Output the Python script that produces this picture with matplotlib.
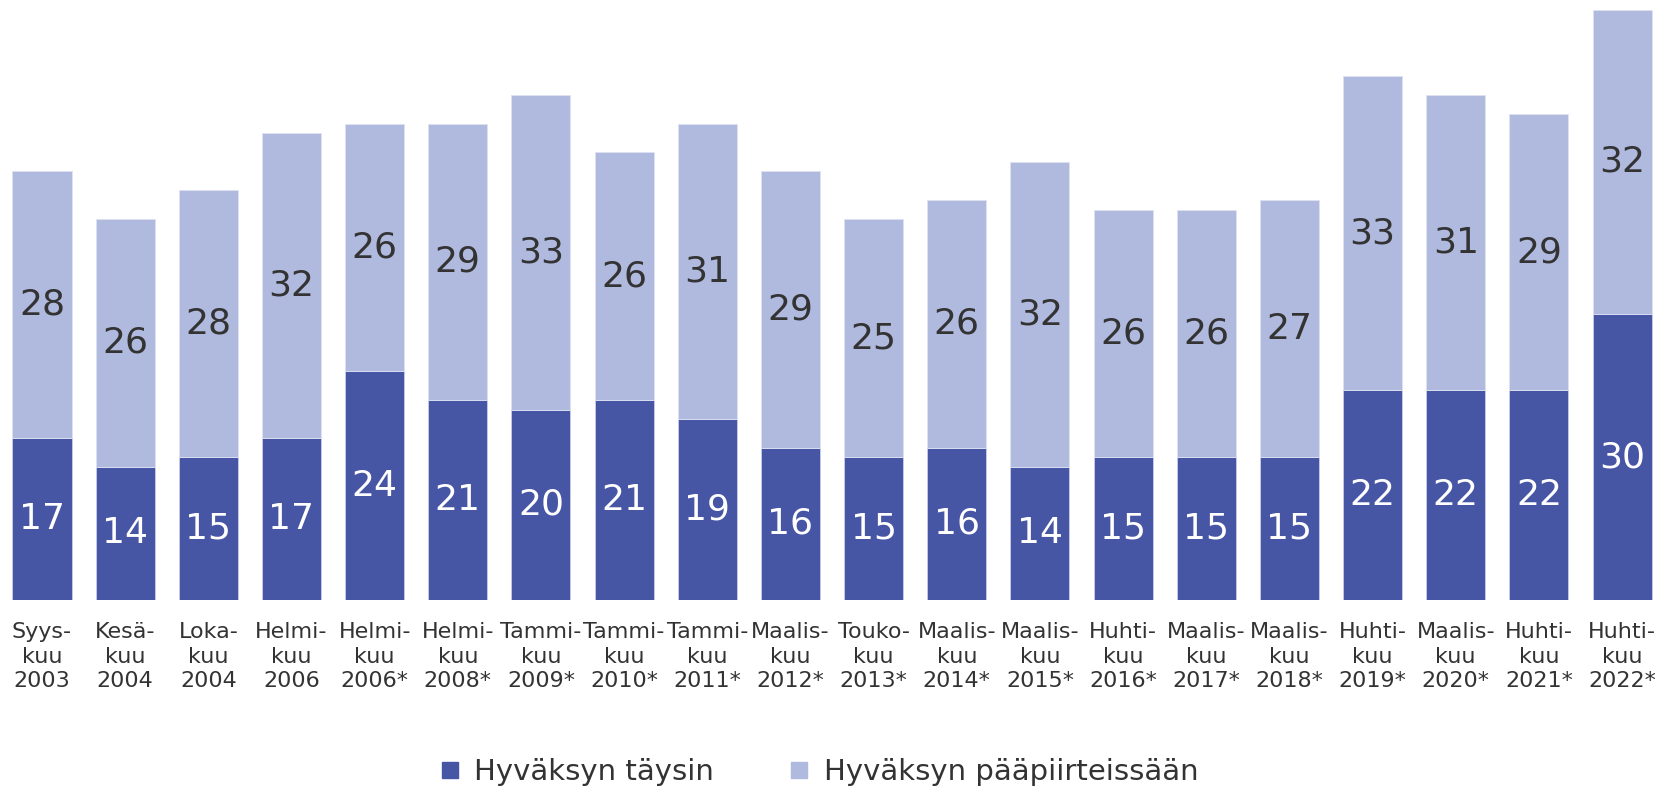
import matplotlib
matplotlib.use("Agg")
import matplotlib.pyplot as plt
from matplotlib.lines import Line2D

categories = [
    "Syys-\nkuu\n2003", "Kesä-\nkuu\n2004", "Loka-\nkuu\n2004", "Helmi-\nkuu\n2006",
    "Helmi-\nkuu\n2006*", "Helmi-\nkuu\n2008*", "Tammi-\nkuu\n2009*", "Tammi-\nkuu\n2010*",
    "Tammi-\nkuu\n2011*", "Maalis-\nkuu\n2012*", "Touko-\nkuu\n2013*", "Maalis-\nkuu\n2014*",
    "Maalis-\nkuu\n2015*", "Huhti-\nkuu\n2016*", "Maalis-\nkuu\n2017*", "Maalis-\nkuu\n2018*",
    "Huhti-\nkuu\n2019*", "Maalis-\nkuu\n2020*", "Huhti-\nkuu\n2021*", "Huhti-\nkuu\n2022*",
]
taysin = [17, 14, 15, 17, 24, 21, 20, 21, 19, 16, 15, 16, 14, 15, 15, 15, 22, 22, 22, 30]
paapiirteissaan = [28, 26, 28, 32, 26, 29, 33, 26, 31, 29, 25, 26, 32, 26, 26, 27, 33, 31, 29, 32]
series_names = ["Hyväksyn täysin", "Hyväksyn pääpiirteissään"]

dark = "#4755A5"
light = "#B0B9DE"
txt = "#333333"

plt.rcParams['font.family'] = ['DejaVu Sans']

fig = plt.figure(figsize=(16.57, 7.88), dpi=100)
ax = fig.add_axes([0.0, 1 - 600 / 788, 1.0, 600 / 788])

x = list(range(len(categories)))
ax.bar(x, taysin, width=0.71, color=dark, edgecolor="#c8cdea", linewidth=0.6)
ax.bar(x, paapiirteissaan, bottom=taysin, width=0.71, color=light, edgecolor="#dde1f2", linewidth=0.6)

for i in x:
    ax.text(i, taysin[i] / 2, str(taysin[i]), ha="center", va="center", color="white", fontsize=26)
    ax.text(i, taysin[i] + paapiirteissaan[i] / 2, str(paapiirteissaan[i]), ha="center", va="center",
            color=txt, fontsize=26)

ax.set_xlim(-0.505, 19.42)
ax.set_ylim(0, 63.0)
ax.set_xticks(x)
ax.set_xticklabels(categories, fontsize=16, color=txt, linespacing=1.27)
ax.tick_params(axis="x", length=0, pad=16)
ax.set_yticks([])
for s in ax.spines.values():
    s.set_visible(False)

handles = [
    Line2D([], [], marker="s", linestyle="none", markersize=11.5, markerfacecolor=dark, markeredgecolor=dark),
    Line2D([], [], marker="s", linestyle="none", markersize=11.5, markerfacecolor=light, markeredgecolor=light),
]
fig.legend(handles, series_names, loc="center", bbox_to_anchor=(0.4946, 1 - 772 / 788), ncol=2,
           frameon=False, fontsize=21, handlelength=0.6, handletextpad=0.55, columnspacing=2.6,
           labelcolor=txt, borderaxespad=0, borderpad=0)

fig.savefig("out.png", dpi=100)
